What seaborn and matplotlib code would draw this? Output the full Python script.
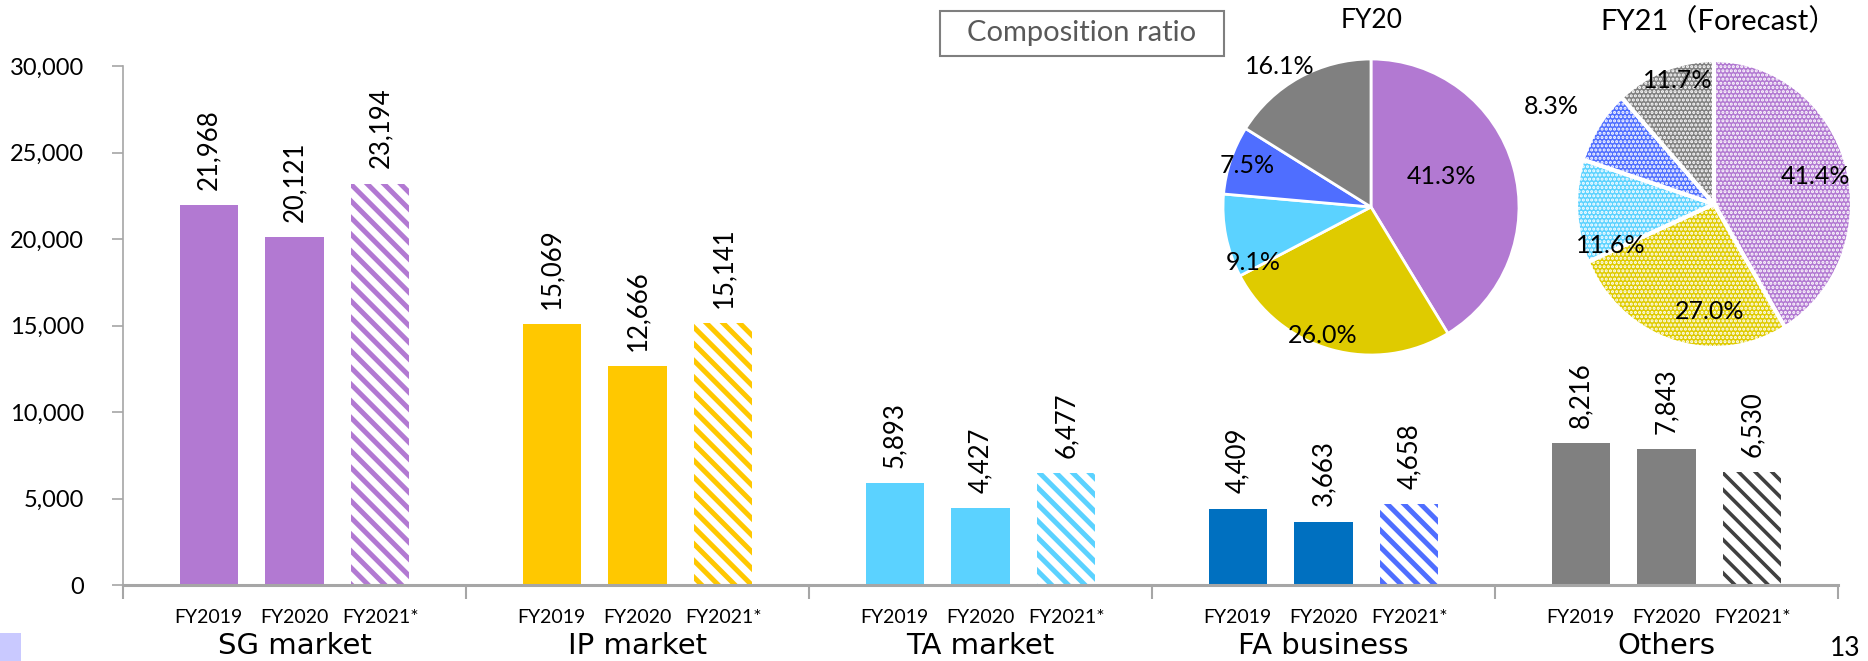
import numpy as np
import pandas as pd
import matplotlib
matplotlib.use("Agg")
import matplotlib.pyplot as plt
import matplotlib.transforms as mtransforms
from matplotlib.patches import Rectangle
from matplotlib.ticker import FuncFormatter
import seaborn as sns

# ---- data -------------------------------------------------------------
segments = ["SG market", "IP market", "TA market", "FA business", "Others"]
years = ["FY2019", "FY2020", "FY2021*"]
sg_sales = [21968, 20121, 23194]
ip_sales = [15069, 12666, 15141]
ta_sales = [5893, 4427, 6477]
fa_sales = [4409, 3663, 4658]
other_sales = [8216, 7843, 6530]

solid_colors = ["#B279D2", "#FFC800", "#5BD2FF", "#0070C0", "#808080"]
forecast_colors = ["#B279D2", "#FFC800", "#5BD2FF", "#4F6EFF", "#404040"]

share_fy20 = [41.3, 26.0, 9.1, 7.5, 16.1]
share_fy21 = [41.4, 27.0, 11.6, 8.3, 11.7]
pie_colors = ["#B279D2", "#DFCB00", "#5BD2FF", "#4F6EFF", "#808080"]

# label placement for pie percentages: (angle nudge in degrees, radius)
fy20_label_pos = [(8, 0.52), (-5, 0.93), (14, 0.88), (0, 0.88), (4, 1.13)]
fy21_label_pos = [(-1, 0.76), (15, 0.75), (18, 0.80), (3, 1.36), (-4, 0.90)]

# ---- style ------------------------------------------------------------
sns.set_theme(style="white")
plt.rcParams["font.family"] = ["Lato", "Noto Sans CJK JP"]
plt.rcParams["text.color"] = "#000000"
plt.rcParams["xtick.color"] = "#000000"
plt.rcParams["ytick.color"] = "#000000"

W, H = 1868, 661
fig = plt.figure(figsize=(W / 100, H / 100), dpi=100)
fig.patch.set_facecolor("white")

ax = fig.add_axes([123 / W, 1 - 585 / H, 1715 / W, 519 / H])

df = pd.DataFrame({
    "segment": np.repeat(segments, len(years)),
    "year": years * len(segments),
    "sales": sg_sales + ip_sales + ta_sales + fa_sales + other_sales,
})

sns.barplot(data=df, x="segment", y="sales", hue="year", order=segments,
            hue_order=years, width=0.75, gap=0.32, errorbar=None,
            saturation=1, legend=False, ax=ax)

bar_centers = []
for j, container in enumerate(ax.containers):
    patches = sorted(container.patches, key=lambda p: p.get_x())
    for i, p in enumerate(patches):
        xc = p.get_x() + p.get_width() / 2
        bar_centers.append(xc)
        if j < 2:
            p.set_facecolor(solid_colors[i])
            p.set_edgecolor(solid_colors[i])
            p.set_linewidth(0)
        else:
            p.set_facecolor("white")
            p.set_edgecolor(forecast_colors[i])
            p.set_hatch("\\\\")
            p.set_linewidth(0)
            if hasattr(p, "set_hatch_linewidth"):
                p.set_hatch_linewidth(3.6 if i < 4 else 2.6)
        value = p.get_height()
        ax.annotate(f"{value:,.0f}", (xc, value), xytext=(0, 11),
                    textcoords="offset points", rotation=90, ha="center",
                    va="bottom", fontsize=18.5)

bar_centers = sorted(bar_centers)
tick_labels = [years[k % 3] for k in range(len(bar_centers))]

ax.set_xlim(-0.5, len(segments) - 0.5)
ax.set_ylim(0, 30000)
ax.set_yticks(range(0, 30001, 5000))
ax.yaxis.set_major_formatter(FuncFormatter(lambda v, _: f"{v:,.0f}"))
ax.tick_params(axis="y", length=8, width=1.2, color="#A6A6A6", pad=20,
               labelsize=17, left=True)

ax.set_xticks(bar_centers, tick_labels)
ax.set_xticks(np.arange(-0.5, len(segments)), minor=True)
ax.tick_params(axis="x", which="major", length=0, pad=17, labelsize=14)
ax.tick_params(axis="x", which="minor", length=10, width=1.5,
               color="#A6A6A6", bottom=True)
ax.set_xlabel("")
ax.set_ylabel("")

for s in ["top", "right"]:
    ax.spines[s].set_visible(False)
ax.spines["left"].set_color("#A6A6A6")
ax.spines["left"].set_linewidth(1.2)
ax.spines["bottom"].set_color("#A6A6A6")
ax.spines["bottom"].set_linewidth(2.2)

trans = mtransforms.blended_transform_factory(ax.transData, ax.transAxes)
for i, name in enumerate(segments):
    ax.text(i, -0.118, name, transform=trans, ha="center", va="center",
            fontsize=21, family=["DejaVu Sans"])

# ---- composition pies --------------------------------------------------
def draw_pie(rect, shares, label_pos, dotted):
    pax = fig.add_axes(rect)
    wedges, _ = pax.pie(shares, colors=pie_colors, startangle=90,
                        counterclock=False, radius=1,
                        wedgeprops=dict(edgecolor="white",
                                        linewidth=3 if dotted else 2))
    if dotted:
        for w in wedges:
            w.set_hatch("....")
            if hasattr(w, "set_hatch_linewidth"):
                w.set_hatch_linewidth(1.5)
    pax.set_xlim(-1, 1)
    pax.set_ylim(-1, 1)
    pax.set_aspect("auto")
    pax.axis("off")
    for w, share, (nudge, r) in zip(wedges, shares, label_pos):
        ang = np.deg2rad((w.theta1 + w.theta2) / 2 + nudge)
        pax.text(r * np.cos(ang), r * np.sin(ang), f"{share:.1f}%",
                 ha="center", va="center", fontsize=18, clip_on=False)
    return pax

draw_pie([1223 / W, 1 - 355 / H, 296 / W, 296 / H], share_fy20,
         fy20_label_pos, dotted=False)
draw_pie([1576 / W, 1 - 348 / H, 276 / W, 288 / H], share_fy21,
         fy21_label_pos, dotted=True)

fig.text(1372 / W, 1 - 21 / H, "FY20", ha="center", va="center", fontsize=19)
fig.text(1719 / W, 1 - 21 / H, "FY21（Forecast）", ha="center", va="center",
         fontsize=21)

# boxed caption
fig.patches.append(Rectangle((940 / W, 1 - 56 / H), 284 / W, 45 / H,
                             transform=fig.transFigure, facecolor="white",
                             edgecolor="#7F7F7F", linewidth=1.5))
fig.text(1082 / W, 1 - 33.5 / H, "Composition ratio", ha="center",
         va="center", fontsize=21, color="#595959")

# slide decorations
fig.patches.append(Rectangle((0, 0), 21 / W, 28 / H, transform=fig.transFigure,
                             facecolor="#C9C9FF", edgecolor="none"))
fig.text(1830 / W, 1 - 636 / H, "13", ha="left", va="top", fontsize=19)

fig.savefig("out.png", dpi=100, facecolor="white")
